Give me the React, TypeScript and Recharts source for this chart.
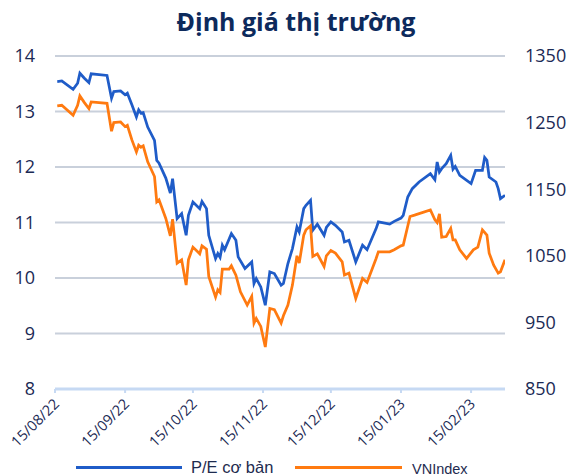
import { LineChart, Line, XAxis, YAxis, CartesianGrid, Legend } from 'recharts';

// P/E cơ bản (left axis)
const peDates = [
  '2022-08-16', '2022-08-18', '2022-08-23', '2022-08-25', '2022-08-26', '2022-08-28', '2022-08-30', '2022-08-31',
  '2022-09-07', '2022-09-09', '2022-09-10', '2022-09-13', '2022-09-15', '2022-09-16', '2022-09-18', '2022-09-20',
  '2022-09-21', '2022-09-22', '2022-09-23', '2022-09-25', '2022-09-28', '2022-09-29', '2022-09-30', '2022-10-03',
  '2022-10-05', '2022-10-06', '2022-10-08', '2022-10-10', '2022-10-12', '2022-10-13', '2022-10-15', '2022-10-18',
  '2022-10-19', '2022-10-21', '2022-10-22', '2022-10-25', '2022-10-26', '2022-10-27', '2022-10-28', '2022-10-29',
  '2022-11-01', '2022-11-03', '2022-11-04', '2022-11-07', '2022-11-10', '2022-11-11', '2022-11-12', '2022-11-14',
  '2022-11-16', '2022-11-18', '2022-11-20', '2022-11-23', '2022-11-24', '2022-11-26', '2022-11-28', '2022-11-30',
  '2022-12-01', '2022-12-03', '2022-12-04', '2022-12-06', '2022-12-07', '2022-12-09', '2022-12-12', '2022-12-13',
  '2022-12-15', '2022-12-17', '2022-12-20', '2022-12-21', '2022-12-23', '2022-12-26', '2022-12-29', '2022-12-31',
  '2023-01-04', '2023-01-05', '2023-01-10', '2023-01-12', '2023-01-15', '2023-01-16', '2023-01-18', '2023-01-20',
  '2023-01-23', '2023-01-28', '2023-01-30', '2023-01-31', '2023-02-01', '2023-02-02', '2023-02-04', '2023-02-06',
  '2023-02-07', '2023-02-08', '2023-02-10', '2023-02-15', '2023-02-17', '2023-02-20', '2023-02-21', '2023-02-22',
  '2023-02-23', '2023-02-26', '2023-02-27', '2023-02-28', '2023-03-02',
];
const peValues = [
  13.54, 13.55, 13.4, 13.51, 13.69, 13.6, 13.52, 13.68,
  13.65, 13.24, 13.36, 13.37, 13.3, 13.33, 13.12, 12.9,
  13.03, 12.97, 12.98, 12.72, 12.48, 12.12, 12.07, 11.8,
  11.53, 11.79, 11.07, 11.16, 10.77, 11.13, 11.37, 11.25,
  11.38, 11.25, 10.77, 10.35, 10.44, 10.37, 10.59, 10.51,
  10.8, 10.68, 10.38, 10.17, 10.29, 9.9, 9.99, 9.84,
  9.51, 10.11, 10.08, 9.87, 9.9, 10.26, 10.53, 10.92,
  10.83, 11.25, 11.31, 11.4, 10.86, 10.97, 10.77, 10.91,
  11.01, 10.95, 10.83, 10.65, 10.68, 10.29, 10.59, 10.51,
  10.89, 11.01, 10.97, 11.02, 11.08, 11.13, 11.46, 11.61,
  11.73, 11.88, 11.77, 12.09, 11.91, 11.97, 12.06, 12.21,
  11.96, 12.01, 11.85, 11.7, 11.94, 11.94, 12.17, 12.12,
  11.82, 11.73, 11.61, 11.43, 11.49,
];

// VNIndex (right axis)
const vniDates = [
  '2022-08-16', '2022-08-18', '2022-08-23', '2022-08-25', '2022-08-26', '2022-08-28', '2022-08-30', '2022-08-31',
  '2022-09-07', '2022-09-09', '2022-09-10', '2022-09-13', '2022-09-15', '2022-09-16', '2022-09-18', '2022-09-20',
  '2022-09-21', '2022-09-22', '2022-09-23', '2022-09-25', '2022-09-28', '2022-09-29', '2022-09-30', '2022-10-03',
  '2022-10-05', '2022-10-06', '2022-10-08', '2022-10-10', '2022-10-12', '2022-10-13', '2022-10-15', '2022-10-18',
  '2022-10-19', '2022-10-21', '2022-10-22', '2022-10-25', '2022-10-26', '2022-10-27', '2022-10-28', '2022-10-31',
  '2022-11-01', '2022-11-03', '2022-11-05', '2022-11-08', '2022-11-10', '2022-11-11', '2022-11-12', '2022-11-14',
  '2022-11-16', '2022-11-18', '2022-11-20', '2022-11-23', '2022-11-24', '2022-11-26', '2022-11-28', '2022-11-30',
  '2022-12-01', '2022-12-03', '2022-12-04', '2022-12-06', '2022-12-07', '2022-12-09', '2022-12-12', '2022-12-13',
  '2022-12-15', '2022-12-17', '2022-12-20', '2022-12-21', '2022-12-23', '2022-12-26', '2022-12-29', '2022-12-31',
  '2023-01-04', '2023-01-05', '2023-01-10', '2023-01-12', '2023-01-15', '2023-01-16', '2023-01-19', '2023-01-21',
  '2023-01-28', '2023-01-30', '2023-01-31', '2023-02-01', '2023-02-02', '2023-02-04', '2023-02-06', '2023-02-07',
  '2023-02-08', '2023-02-10', '2023-02-13', '2023-02-16', '2023-02-18', '2023-02-20', '2023-02-22', '2023-02-23',
  '2023-02-25', '2023-02-27', '2023-02-28', '2023-03-02',
];
const vniValues = [
  1275, 1276, 1261, 1276, 1290, 1280, 1271, 1281,
  1279, 1237, 1250, 1251, 1244, 1246, 1224, 1206,
  1216, 1213, 1215, 1191, 1169, 1131, 1134, 1106,
  1080, 1105, 1039, 1044, 1006, 1044, 1063, 1053,
  1065, 1060, 1019, 988, 999, 995, 1030, 1030,
  1035, 1021, 996, 976, 989, 949, 956, 944,
  913, 971, 969, 949, 960, 976, 1006, 1050,
  1039, 1081, 1089, 1095, 1049, 1053, 1034, 1050,
  1058, 1054, 1041, 1021, 1024, 986, 1016, 1010,
  1046, 1056, 1056, 1059, 1065, 1066, 1109, 1111,
  1119, 1104, 1100, 1113, 1078, 1079, 1091, 1074,
  1074, 1059, 1046, 1059, 1063, 1089, 1081, 1054,
  1036, 1024, 1026, 1044,
];

const xTickDates = ['2022-08-15', '2022-09-15', '2022-10-15', '2022-11-15', '2022-12-15', '2023-01-15', '2023-02-15'];
const xDomainDates = ['2022-08-15', '2023-03-02'];
const peTicks = [8, 9, 10, 11, 12, 13, 14];
const vniTicks = [850, 950, 1050, 1150, 1250, 1350];

const toTime = (s: string) => {
  const [y, m, d] = s.split('-').map(Number);
  return Date.UTC(y, m - 1, d);
};

const fmtDate = (t: number) => {
  const d = new Date(t);
  const dd = String(d.getUTCDate()).padStart(2, '0');
  const mm = String(d.getUTCMonth() + 1).padStart(2, '0');
  const yy = String(d.getUTCFullYear()).slice(2);
  return `${dd}/${mm}/${yy}`;
};

const peData = peDates.map((d, i) => ({ t: toTime(d), v: peValues[i] }));
const vniData = vniDates.map((d, i) => ({ t: toTime(d), v: vniValues[i] }));

const NAVY = '#1b2a55';
const BLUE = '#1f5cc8';
const ORANGE = '#ff7a10';

const DateTick = ({ x, y, payload }: any) => (
  <g transform={`translate(${x + 5},${y + 10})`}>
    <text textAnchor="end" transform="rotate(-45)" fill={NAVY} fontSize={14.5} fontFamily="'Open Sans', sans-serif">
      {fmtDate(payload.value)}
    </text>
  </g>
);

const renderLegend = () => (
  <div style={{ position: 'relative', height: 22, fontFamily: "'Liberation Sans', Arial, sans-serif", color: '#1e2b4f' }}>
    <div style={{ position: 'absolute', left: 76, top: 12, width: 106, height: 3, background: BLUE }} />
    <div style={{ position: 'absolute', left: 191, top: 3, fontSize: 16.5, lineHeight: '20px' }}>P/E cơ bản</div>
    <div style={{ position: 'absolute', left: 295, top: 12, width: 107, height: 3, background: ORANGE }} />
    <div style={{ position: 'absolute', left: 412, top: 6, fontSize: 14.5, lineHeight: '18px' }}>VNIndex</div>
  </div>
);

export default function App() {
  return (
    <div style={{ position: 'absolute', left: 0, top: 0, width: 570, height: 476, background: '#fff' }}>
      <div
        style={{
          position: 'absolute',
          left: 11,
          top: 5,
          width: 570,
          textAlign: 'center',
          fontFamily: "'Open Sans', sans-serif",
          fontWeight: 700,
          fontSize: 25,
          lineHeight: '32px',
          color: '#0d2a5c',
        }}
      >
        Định giá thị trường
      </div>
      <LineChart width={570} height={476} margin={{ top: 56, right: 0, bottom: 0, left: 0 }}>
        <CartesianGrid yAxisId="left" vertical={false} stroke="#c9d0db" strokeWidth={2} />
        <XAxis
          dataKey="t"
          type="number"
          domain={xDomainDates.map(toTime)}
          ticks={xTickDates.map(toTime)}
          allowDataOverflow
          height={65}
          axisLine={{ stroke: '#c6d9f3', strokeWidth: 3 }}
          tickLine={{ stroke: '#c6d9f3', strokeWidth: 2 }}
          tickSize={4}
          tickMargin={2}
          tick={<DateTick />}
          interval={0}
        />
        <YAxis
          yAxisId="left"
          domain={[8, 14]}
          ticks={peTicks}
          width={55}
          axisLine={false}
          tickLine={false}
          tickSize={0}
          tickMargin={20}
          tick={{ fill: NAVY, fontSize: 18, fontFamily: "'Open Sans', sans-serif" }}
        />
        <YAxis
          yAxisId="right"
          orientation="right"
          domain={[850, 1350]}
          ticks={vniTicks}
          width={65}
          axisLine={false}
          tickLine={false}
          tickSize={0}
          tickMargin={20}
          tick={{ fill: NAVY, fontSize: 18, fontFamily: "'Open Sans', sans-serif" }}
        />
        <Line
          yAxisId="left"
          data={peData}
          dataKey="v"
          name="P/E cơ bản"
          type="linear"
          stroke={BLUE}
          strokeWidth={2.75}
          dot={false}
          isAnimationActive={false}
        />
        <Line
          yAxisId="right"
          data={vniData}
          dataKey="v"
          name="VNIndex"
          type="linear"
          stroke={ORANGE}
          strokeWidth={2.75}
          dot={false}
          isAnimationActive={false}
        />
        <Legend verticalAlign="bottom" content={renderLegend} />
      </LineChart>
    </div>
  );
}
